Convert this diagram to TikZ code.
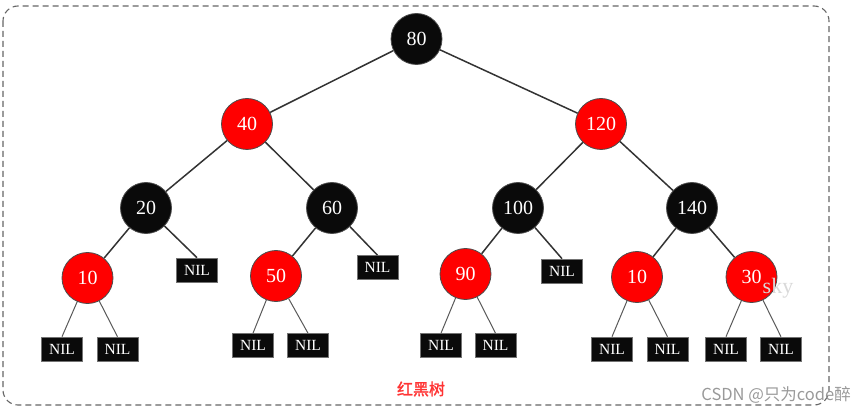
\documentclass[tikz,border=0pt]{standalone}
\usepackage{fontspec}
\setmainfont{Liberation Serif}
\newfontfamily\cjkfont{Noto Sans CJK SC}
\newfontfamily\cjkboldfont[FakeBold=1.6]{Noto Sans CJK SC}
\begin{document}
\begin{tikzpicture}[x=1pt,y=-1pt,
  rbnode/.style={circle,minimum size=51pt,inner sep=0pt,draw=black!70,line width=0.8pt,text=white,font=\fontsize{20}{24}\selectfont},
  blk/.style={rbnode,fill=black!96},
  red/.style={rbnode,fill=red},
  nil/.style={rectangle,minimum width=41pt,minimum height=24pt,inner sep=0pt,fill=black!96,draw=black!55,line width=0.6pt,text=white,font=\fontsize{15.5}{18}\selectfont},
  edge/.style={draw=black!80,line width=1.5pt},
  leaf/.style={draw=black!65,line width=1pt},
  frame/.style={draw=black!60,dashed,dash pattern=on 6pt off 4pt,line width=1.1pt,rounded corners=15pt}]
\useasboundingbox (0,0) rectangle (865,414);
\path[frame] (3,6) rectangle (829,405);
% internal nodes
\node[blk] (n80) at (416.5,39) {80};
\node[red] (n40) at (247,124) {40};
\node[red] (n120) at (601,124) {120};
\node[blk] (n20) at (146,208) {20};
\node[blk] (n60) at (332,208) {60};
\node[blk] (n100) at (518,208) {100};
\node[blk] (n140) at (692,208) {140};
\node[red] (n10a) at (87.5,278) {10};
\node[red] (n50) at (276,276) {50};
\node[red] (n90) at (465.5,274) {90};
\node[red] (n10b) at (637,277) {10};
\node[red] (n30) at (751.5,277) {30};
% NIL leaves
\node[nil] (l20) at (197,270) {NIL};
\node[nil] (l60) at (377.5,267.5) {NIL};
\node[nil] (l100) at (562,271) {NIL};
\node[nil] (l10aL) at (62,349) {NIL};
\node[nil] (l10aR) at (117.5,349) {NIL};
\node[nil] (l50L) at (253,345.5) {NIL};
\node[nil] (l50R) at (308,345.5) {NIL};
\node[nil] (l90L) at (441,345.5) {NIL};
\node[nil] (l90R) at (495.5,345.5) {NIL};
\node[nil] (l10bL) at (612,349) {NIL};
\node[nil] (l10bR) at (667.5,349) {NIL};
\node[nil] (l30L) at (726,349) {NIL};
\node[nil] (l30R) at (781,349) {NIL};
% edges
\path[edge] (n80) -- (n40);
\path[edge] (n80) -- (n120);
\path[edge] (n40) -- (n20);
\path[edge] (n40) -- (n60);
\path[edge] (n120) -- (n100);
\path[edge] (n120) -- (n140);
\path[edge] (n20) -- (n10a);
\path[edge] (n20) -- (l20.north);
\path[edge] (n60) -- (n50);
\path[edge] (n60) -- (l60.north);
\path[edge] (n100) -- (n90);
\path[edge] (n100) -- (l100.north);
\path[edge] (n140) -- (n10b);
\path[edge] (n140) -- (n30);
\path[leaf] (n10a) -- (l10aL.north);
\path[leaf] (n10a) -- (l10aR.north);
\path[leaf] (n50) -- (l50L.north);
\path[leaf] (n50) -- (l50R.north);
\path[leaf] (n90) -- (l90L.north);
\path[leaf] (n90) -- (l90R.north);
\path[leaf] (n10b) -- (l10bL.north);
\path[leaf] (n10b) -- (l10bR.north);
\path[leaf] (n30) -- (l30L.north);
\path[leaf] (n30) -- (l30R.north);
% labels
\node[text=red!80!white,font=\cjkboldfont\fontsize{16}{19}\selectfont] (title) at (421,389) {红黑树};
\node[text=black!15,font=\fontsize{22}{26}\selectfont] (sky) at (778,288) {sky};
\node[text=black!40,font=\cjkfont\fontsize{16.5}{19}\selectfont,anchor=east,inner sep=0pt] (csdn) at (851,395) {CSDN @只为code醉};
\end{tikzpicture}
\end{document}
